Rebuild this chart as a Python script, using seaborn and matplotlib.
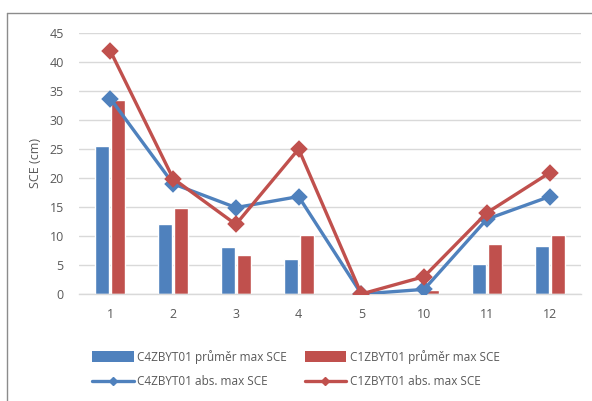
import matplotlib
matplotlib.use("Agg")
import matplotlib.pyplot as plt
import seaborn as sns
import pandas as pd
from matplotlib.lines import Line2D
from matplotlib.patches import Patch

categories = ["1", "2", "3", "4", "5", "10", "11", "12"]
c4_avg = [25.6, 12.1, 8.1, 6.0, 0.0, 0.0, 5.1, 8.3]
c1_avg = [33.4, 14.9, 6.8, 10.1, 0.0, 0.7, 8.7, 10.1]
c4_abs = [33.7, 19.0, 14.9, 16.8, 0.0, 0.8, 12.9, 16.8]
c1_abs = [41.9, 19.9, 12.0, 25.0, 0.0, 3.0, 14.0, 20.9]
names_avg = ["C4ZBYT01 průměr max SCE", "C1ZBYT01 průměr max SCE"]
names_abs = ["C4ZBYT01 abs. max SCE", "C1ZBYT01 abs. max SCE"]
y_ticks = [0, 5, 10, 15, 20, 25, 30, 35, 40, 45]

blue = "#4F81BD"
red = "#C0504D"
tick_col = "#595959"

sns.set_theme(style="white")
plt.rcParams["font.family"] = ["Open Sans", "DejaVu Sans"]

fig = plt.figure(figsize=(5.92, 4.01), dpi=100)
ax = fig.add_axes([79/592, 1-294/401, (581-79)/592, (294-33)/401])

bars = pd.DataFrame({
    "cat": categories * 2,
    "val": c4_avg + c1_avg,
    "series": [names_avg[0]] * 8 + [names_avg[1]] * 8,
})
sns.barplot(data=bars, x="cat", y="val", hue="series", order=categories,
            palette=[blue, red], width=0.51, gap=0.12, ax=ax, legend=False,
            saturation=1, zorder=2)

lines = pd.DataFrame({
    "cat": categories * 2,
    "val": c4_abs + c1_abs,
    "series": [names_abs[0]] * 8 + [names_abs[1]] * 8,
})
sns.pointplot(data=lines, x="cat", y="val", hue="series", order=categories,
              palette=[blue, red], markers="D", linestyles="-", ax=ax,
              legend=False, markersize=7.5, linewidth=2.4, dodge=False)
for c in ax.collections:
    c.set_zorder(4)
for l in ax.lines:
    l.set_zorder(4)

ax.set_ylim(0, 45)
ax.set_xlim(-0.5, 7.5)
ax.set_yticks(y_ticks)
ax.yaxis.grid(True, color="#D9D9D9", linewidth=1.0, zorder=0)
ax.set_axisbelow(True)
for s in ["top", "right", "left"]:
    ax.spines[s].set_visible(False)
ax.spines["bottom"].set_color("#D9D9D9")
ax.spines["bottom"].set_linewidth(1.0)
ax.tick_params(axis="both", colors=tick_col, labelsize=9, length=0, pad=10)
ax.tick_params(axis="y", pad=11)
ax.set_xlabel("")
ax.set_ylabel("SCE (cm)", color=tick_col, fontsize=9, labelpad=5)

handles = [
    Patch(facecolor=blue, edgecolor="none", label=names_avg[0]),
    Line2D([], [], color=blue, lw=2.4, marker="D", markersize=4.5, label=names_abs[0]),
    Patch(facecolor=red, edgecolor="none", label=names_avg[1]),
    Line2D([], [], color=red, lw=2.4, marker="D", markersize=4.5, label=names_abs[1]),
]
leg = fig.legend(handles=handles, ncol=2, loc="center", bbox_to_anchor=(0.5, 1-369/401),
                 frameon=False, fontsize=8.5, handlelength=3.5, handleheight=1.0,
                 columnspacing=1.5, labelspacing=1.0, handletextpad=0.3)
for t in leg.get_texts():
    t.set_color(tick_col)

# figure border
fig.add_artist(Line2D([7/592, 7/592], [0, 1-13/401], transform=fig.transFigure, color="#8C8C8C", lw=1))
fig.add_artist(Line2D([7/592, 1], [1-13/401, 1-13/401], transform=fig.transFigure, color="#8C8C8C", lw=1))

fig.savefig("out.png", dpi=100)
